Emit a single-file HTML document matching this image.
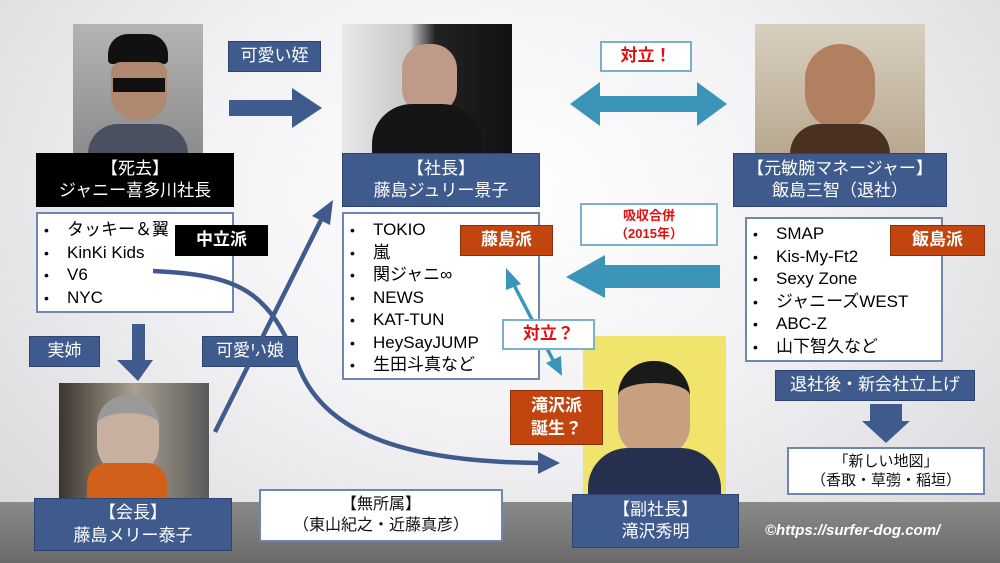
<!DOCTYPE html>
<html><head><meta charset="utf-8"><style>
*{margin:0;padding:0;box-sizing:border-box}
body{width:1000px;height:563px;position:relative;overflow:hidden;font-family:"Liberation Sans","Noto Sans CJK JP",sans-serif;background:radial-gradient(ellipse at 50% 35%,#ffffff 0%,#f2f2f4 45%,#d6d6d9 100%)}
.a{position:absolute}
.floor{left:0;top:502px;width:1000px;height:61px;background:linear-gradient(#8a8a8a,#6a6a6a)}
.bx{position:absolute;display:flex;align-items:center;justify-content:center;text-align:center;line-height:1.3;font-size:17px}
.blue{background:#3f5a8c;color:#fff;border:1px solid #2e4470}
.blk{background:#000;color:#fff}
.org{background:#c2440e;color:#fff;font-weight:bold;border:1px solid #8a300a}
.wht{background:#fff;border:2px solid #6f86b3;color:#111}
.list{position:absolute;background:#fff;border:2px solid #6f86b3;font-size:17px;line-height:22.5px;padding:5px 0 0 6px;list-style:none;white-space:nowrap}
.list li:before{content:"•";display:inline-block;width:23px;font-size:14px}
</style></head><body>
<div class="a floor"></div>

<!-- photos -->
<div class="a" style="left:73px;top:24px;width:130px;height:130px;background:linear-gradient(#b4b4b4,#8c8c8c)"><div class="a" style="left:35px;top:10px;width:60px;height:30px;background:#111;border-radius:20px 20px 4px 4px"></div><div class="a" style="left:38px;top:38px;width:56px;height:58px;background:#b08870;border-radius:10px 10px 25px 25px"></div><div class="a" style="left:40px;top:54px;width:52px;height:14px;background:#111"></div><div class="a" style="left:15px;top:100px;width:100px;height:30px;background:#4a5060;border-radius:30px 30px 0 0"></div></div>
<div class="a" style="left:342px;top:24px;width:170px;height:130px;background:linear-gradient(90deg,#e8e8e8,#c8c8c8 40%,#222 55%,#111)"><div class="a" style="left:60px;top:20px;width:55px;height:70px;background:#c09a88;border-radius:25px"></div><div class="a" style="left:30px;top:80px;width:110px;height:50px;background:#151515;border-radius:40px 40px 0 0"></div></div>
<div class="a" style="left:755px;top:24px;width:170px;height:130px;background:linear-gradient(#d8cfc0,#b8a890)"><div class="a" style="left:50px;top:20px;width:70px;height:85px;background:#b08060;border-radius:35px"></div><div class="a" style="left:35px;top:100px;width:100px;height:30px;background:#4a3020;border-radius:30px 30px 0 0"></div></div>
<div class="a" style="left:583px;top:336px;width:143px;height:158px;background:#f0e46c"><div class="a" style="left:35px;top:25px;width:72px;height:95px;background:#c8a080;border-radius:35px 35px 30px 30px;border-top:22px solid #1a1a1a"></div><div class="a" style="left:5px;top:112px;width:133px;height:46px;background:#24304e;border-radius:40px 40px 0 0"></div></div>
<div class="a" style="left:59px;top:383px;width:150px;height:115px;background:linear-gradient(90deg,#3a3530,#a8a090 50%,#5a5a5a)"><div class="a" style="left:38px;top:12px;width:62px;height:80px;background:#c8b0a0;border-radius:30px;border-top:18px solid #999"></div><div class="a" style="left:28px;top:80px;width:80px;height:35px;background:#d0601a;border-radius:20px 20px 0 0"></div></div>

<!-- block arrows -->
<svg class="a" style="left:0;top:0" width="1000" height="563">
<path d="M229,100H292V88L322,108L292,128V116H229Z" fill="#3f5a8c"/>
<path d="M570,104L600,82V96H697V82L727,104L697,126V112H600V126Z" fill="#3b95b8"/>
<path d="M720,265H605V255L566,277L605,298V288H720Z" fill="#3b95b8"/>
<path d="M132,324H145V360H153L138,381L117,360H132Z" fill="#3f5a8c"/>
<path d="M870,404H902V421H910L886,443L862,421H870Z" fill="#3f5a8c"/>
</svg>

<!-- boxes -->
<div class="bx blk" style="left:36px;top:153px;width:198px;height:54px">【死去】<br>ジャニー喜多川社長</div>
<ul class="list" style="left:36px;top:212px;width:198px;height:101px"><li>タッキー＆翼</li><li>KinKi Kids</li><li>V6</li><li>NYC</li></ul>
<div class="bx blk" style="left:175px;top:225px;width:93px;height:31px;font-weight:bold">中立派</div>
<div class="bx blue" style="left:228px;top:41px;width:93px;height:31px">可愛い姪</div>

<div class="bx blue" style="left:342px;top:153px;width:198px;height:54px">【社長】<br>藤島ジュリー景子</div>
<ul class="list" style="left:342px;top:212px;width:198px;height:168px"><li>TOKIO</li><li>嵐</li><li>関ジャニ∞</li><li>NEWS</li><li>KAT-TUN</li><li>HeySayJUMP</li><li>生田斗真など</li></ul>
<div class="bx org" style="left:460px;top:225px;width:93px;height:31px">藤島派</div>

<div class="bx wht" style="left:600px;top:41px;width:92px;height:31px;color:#e01010;font-weight:bold;border-color:#7ab0cc">対立！</div>
<div class="bx wht" style="left:580px;top:203px;width:138px;height:43px;color:#e01010;font-weight:bold;font-size:13px;border-color:#7ab0cc;line-height:1.35">吸収合併<br>（2015年）</div>

<div class="bx blue" style="left:733px;top:153px;width:214px;height:54px">【元敏腕マネージャー】<br>飯島三智（退社）</div>
<ul class="list" style="left:745px;top:217px;width:198px;height:145px;padding-top:4px"><li>SMAP</li><li>Kis-My-Ft2</li><li>Sexy Zone</li><li>ジャニーズWEST</li><li>ABC-Z</li><li>山下智久など</li></ul>
<div class="bx org" style="left:890px;top:225px;width:95px;height:31px">飯島派</div>

<div class="bx blue" style="left:572px;top:494px;width:167px;height:54px">【副社長】<br>滝沢秀明</div>

<div class="bx blue" style="left:29px;top:336px;width:71px;height:31px">実姉</div>
<div class="bx blue" style="left:202px;top:336px;width:96px;height:31px">可愛い娘</div>
<div class="bx blue" style="left:34px;top:498px;width:198px;height:53px">【会長】<br>藤島メリー泰子</div>
<div class="bx wht" style="left:259px;top:489px;width:244px;height:53px;font-size:16px">【無所属】<br>（東山紀之・近藤真彦）</div>

<div class="bx blue" style="left:775px;top:370px;width:200px;height:31px">退社後・新会社立上げ</div>
<div class="bx wht" style="left:787px;top:447px;width:198px;height:48px;font-size:15px">「新しい地図」<br>（香取・草彅・稲垣）</div>
<div class="a" style="left:765px;top:522px;font-size:15px;font-weight:bold;font-style:italic;color:#fff">©https://surfer-dog.com/</div>

<!-- line arrows on top -->
<svg class="a" style="left:0;top:0" width="1000" height="563">
<line x1="215" y1="432" x2="322" y2="218" stroke="#3f5a8c" stroke-width="4.5"/>
<path d="M333,200L330,225L312,216Z" fill="#3f5a8c"/>
<path d="M153,271C240,275 270,290 300,370C330,440 420,462 540,463" fill="none" stroke="#3f5a8c" stroke-width="4.5"/>
<path d="M560,463L538,452L538,474Z" fill="#3f5a8c"/>
<line x1="514" y1="285" x2="553" y2="360" stroke="#3b95b8" stroke-width="3.5"/>
<path d="M506,268L521,284L506,290Z" fill="#3b95b8"/>
<path d="M562,376L561,356L546,363Z" fill="#3b95b8"/>
</svg>
<div class="bx wht" style="left:502px;top:319px;width:93px;height:31px;color:#e01010;font-weight:bold;border-color:#7ab0cc">対立？</div>
<div class="bx org" style="left:510px;top:390px;width:93px;height:55px">滝沢派<br>誕生？</div>
</body></html>
